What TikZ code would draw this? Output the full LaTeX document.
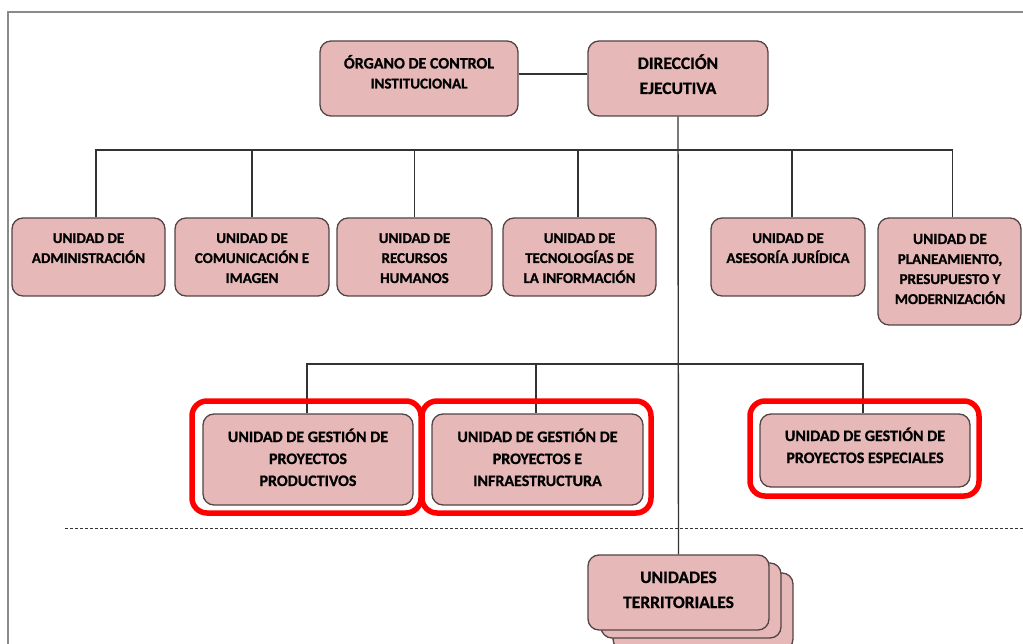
\documentclass[tikz,border=0pt]{standalone}
\usepackage{fontspec}
\setmainfont{Carlito}[BoldFeatures={FakeBold=0.8}]
\definecolor{boxfill}{HTML}{E6B9B8}
\definecolor{boxline}{HTML}{534545}
\definecolor{conn}{HTML}{333333}
\definecolor{frame}{HTML}{8A8A8A}
\definecolor{hl}{HTML}{FF0000}
\tikzset{
  ubox/.style={draw=boxline, fill=boxfill, line width=1.3pt, rounded corners=11pt, inner sep=0pt},
  utext/.style={anchor=base, align=center, inner sep=0pt, text=black},
  fone/.style={font=\fontsize{15}{20}\selectfont\bfseries},
  ftwo/.style={font=\fontsize{16}{22}\selectfont\bfseries},
  fbig/.style={font=\fontsize{17.5}{25}\selectfont\bfseries},
  link/.style={draw=conn, line width=1.4pt},
  hlbox/.style={draw=hl, line width=5.5pt, rounded corners=15pt},
}
\newcommand{\ubox}[5]{\node[ubox, minimum width=#4pt-#2pt, minimum height=#5pt-#3pt] (#1) at ({(#2+#4)/2},{(#3+#5)/2}) {};}
\begin{document}
\begin{tikzpicture}[x=1pt,y=-1pt]
\useasboundingbox (0,0) rectangle (1023,644);
\fill[white] (0,0) rectangle (1023,644);
\draw[frame, line width=1.6pt] (8,644) -- (8,12) -- (1023,12);

% coordinates of bars
\coordinate (bar1) at (678,150);
\coordinate (bar2) at (678,364);
\coordinate (dl) at (65,528);
\coordinate (dr) at (1023,528);

% dashed line
\draw[conn, line width=1pt, dash pattern=on 3pt off 2pt] (dl) -- (dr);

% stacked territorial boxes
\ubox{ut3}{613}{573}{793}{650}
\ubox{ut2}{601}{563}{781}{638}

% boxes
\ubox{oci}{320}{41}{518}{116}
\ubox{dir}{588}{41}{768}{116}
\ubox{adm}{12}{218}{165}{296}
\ubox{com}{175}{218}{329}{296}
\ubox{rrhh}{337}{218}{492}{296}
\ubox{ti}{503}{218}{656}{296}
\ubox{aj}{711}{218}{865}{296}
\ubox{plan}{878}{218}{1021}{325}
\ubox{prod}{203}{414}{413}{505}
\ubox{infra}{432}{414}{643}{505}
\ubox{esp}{760}{414}{970}{487}
\ubox{ut}{588}{555}{769}{630}

% connectors
\draw[link] ([yshift=4.5pt]oci.east) -- ([yshift=4.5pt]dir.west);
\draw[link] (dir.south) -- (ut.north);
\draw[link] ([xshift=7.5pt]adm.north) -- ([xshift=7.5pt]adm.north |- bar1) -- ([xshift=3pt]plan.north |- bar1) -- ([xshift=3pt]plan.north);
\draw[link] (bar1 -| com.north) -- (com.north);
\draw[link] (bar1 -| rrhh.north) -- (rrhh.north);
\draw[link] ([xshift=-1.5pt]bar1 -| ti.north) -- ([xshift=-1.5pt]ti.north);
\draw[link] ([xshift=4pt]bar1 -| aj.north) -- ([xshift=4pt]aj.north);
\draw[link] ([xshift=-1pt]prod.north) -- ([xshift=-1pt]prod.north |- bar2) -- ([xshift=-2pt]esp.north |- bar2) -- ([xshift=-2pt]esp.north);
\draw[link] ([xshift=-1.5pt]bar2 -| infra.north) -- ([xshift=-1.5pt]infra.north);

% texts (base anchor = baseline of last line)
\node[utext, fone] (oci-t) at (419,88.5) {\fontsize{16}{21.5}\selectfont ÓRGANO DE CONTROL\\INSTITUCIONAL};
\node[utext, fbig] (dir-t) at (678,94) {DIRECCIÓN\\EJECUTIVA};
\node[utext, fone] (adm-t) at (88.5,263) {UNIDAD DE\\ADMINISTRACIÓN};
\node[utext, fone] (com-t) at (252,283) {UNIDAD DE\\COMUNICACIÓN E\\IMAGEN};
\node[utext, fone] (rrhh-t) at (414.5,283) {UNIDAD DE\\RECURSOS\\HUMANOS};
\node[utext, fone] (ti-t) at (579.5,283) {UNIDAD DE\\TECNOLOGÍAS DE\\LA INFORMACIÓN};
\node[utext, fone] (aj-t) at (788,263) {UNIDAD DE\\ASESORÍA JURÍDICA};
\node[utext, fone] (plan-t) at (950,304) {\fontsize{15.5}{18.7}\selectfont UNIDAD DE\\PLANEAMIENTO,\\PRESUPUESTO Y\\MODERNIZACIÓN};
\node[utext, ftwo] (prod-t) at (308,486) {UNIDAD DE GESTIÓN DE\\PROYECTOS\\PRODUCTIVOS};
\node[utext, ftwo] (infra-t) at (537.5,486) {UNIDAD DE GESTIÓN DE\\PROYECTOS E\\INFRAESTRUCTURA};
\node[utext, ftwo] (esp-t) at (865,463) {UNIDAD DE GESTIÓN DE\\PROYECTOS ESPECIALES};
\node[utext, fbig] (ut-t) at (678.5,608) {UNIDADES\\TERRITORIALES};

% highlight frames
\node[hlbox, minimum width=229pt, minimum height=112pt] (hl1) at (306.5,457) {};
\node[hlbox, minimum width=229pt, minimum height=112pt] (hl2) at (536.5,457) {};
\node[hlbox, minimum width=229pt, minimum height=95pt] (hl3) at (864.5,448.5) {};
\end{tikzpicture}
\end{document}
